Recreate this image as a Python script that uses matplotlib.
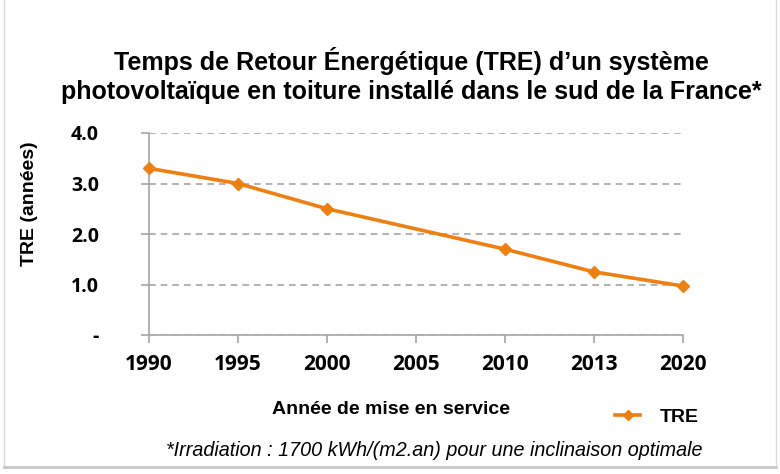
import matplotlib
matplotlib.use('Agg')
import matplotlib.pyplot as plt
from matplotlib.lines import Line2D

years = ['1990', '1995', '2000', '2005', '2010', '2013', '2020']
tre = [3.3, 3.0, 2.5, 2.1, 1.7, 1.25, 0.97]
marked = [0, 1, 2, 4, 5, 6]  # no marker drawn at 2005
yticks = [0, 1, 2, 3, 4]
ytick_labels = ['-', '1.0', '2.0', '3.0', '4.0']

orange = '#EE7F10'
gray = '#A6A6A6'

fig = plt.figure(figsize=(7.8, 4.74), dpi=100)
ax = fig.add_axes([149 / 780, 1 - 335 / 474, (683 - 149) / 780, (335 - 133) / 474])

x = list(range(len(years)))
ax.plot(x, tre, color=orange, lw=2.6, marker='D', ms=6, markevery=marked,
        clip_on=False, zorder=3)

ax.set_xlim(0, len(years) - 1)
ax.set_ylim(0, 4)
ax.set_xticks(x)
ax.set_xticklabels(years, fontfamily='Open Sans', fontweight='bold', fontsize=15)
ax.set_yticks(yticks)
ax.set_yticklabels(ytick_labels, fontfamily='Open Sans', fontweight='bold', fontsize=14)
ax.tick_params(axis='x', length=6, width=1.2, color=gray, pad=8)
ax.tick_params(axis='y', length=6, width=1.2, color=gray, pad=30)
ax.yaxis.grid(True, ls=(0, (4, 3)), color=gray, lw=1.2)
ax.set_axisbelow(True)
for side in ['top', 'right']:
    ax.spines[side].set_visible(False)
for side in ['left', 'bottom']:
    ax.spines[side].set_color(gray)
    ax.spines[side].set_linewidth(1.2)

fig.text(411 / 780, 1 - 61 / 474,
         'Temps de Retour Énergétique (TRE) d’un système',
         ha='center', va='center', fontfamily='Liberation Sans',
         fontweight='bold', fontsize=18)
fig.text(411 / 780, 1 - 92 / 474,
         'photovoltaïque en toiture installé dans le sud de la France*',
         ha='center', va='center', fontfamily='Liberation Sans',
         fontweight='bold', fontsize=18)

fig.text(30 / 780, 1 - 204 / 474, 'TRE (années)', rotation=90,
         ha='center', va='center', fontfamily='Liberation Sans',
         fontweight='bold', fontsize=14)
fig.text(391 / 780, 1 - 409 / 474, 'Année de mise en service',
         ha='center', va='center', fontfamily='Liberation Sans',
         fontweight='bold', fontsize=14)
fig.text(434 / 780, 1 - 451 / 474,
         '*Irradiation : 1700 kWh/(m2.an) pour une inclinaison optimale',
         ha='center', va='center', fontfamily='Liberation Sans',
         style='italic', fontsize=14.2)

handle = Line2D([], [], color=orange, lw=2.6, marker='D', ms=5)
fig.legend([handle], ['TRE'], loc='center', bbox_to_anchor=(657 / 780, 1 - 417 / 474),
           frameon=False, handlelength=1.3, handletextpad=1.0,
           prop={'family': 'Liberation Sans', 'weight': 'bold', 'size': 14})

# light frame around the picture
frame = '#D9D9D9'
fig.add_artist(Line2D([4 / 780, 4 / 780], [1 - 466 / 474, 1], color=frame, lw=1))
fig.add_artist(Line2D([776 / 780, 776 / 780], [1 - 466 / 474, 1], color=frame, lw=1))
fig.add_artist(Line2D([4 / 780, 776 / 780], [1 - 467 / 474, 1 - 467 / 474],
                      color='#C8C8C8', lw=2))

fig.savefig('out.png', dpi=100)
